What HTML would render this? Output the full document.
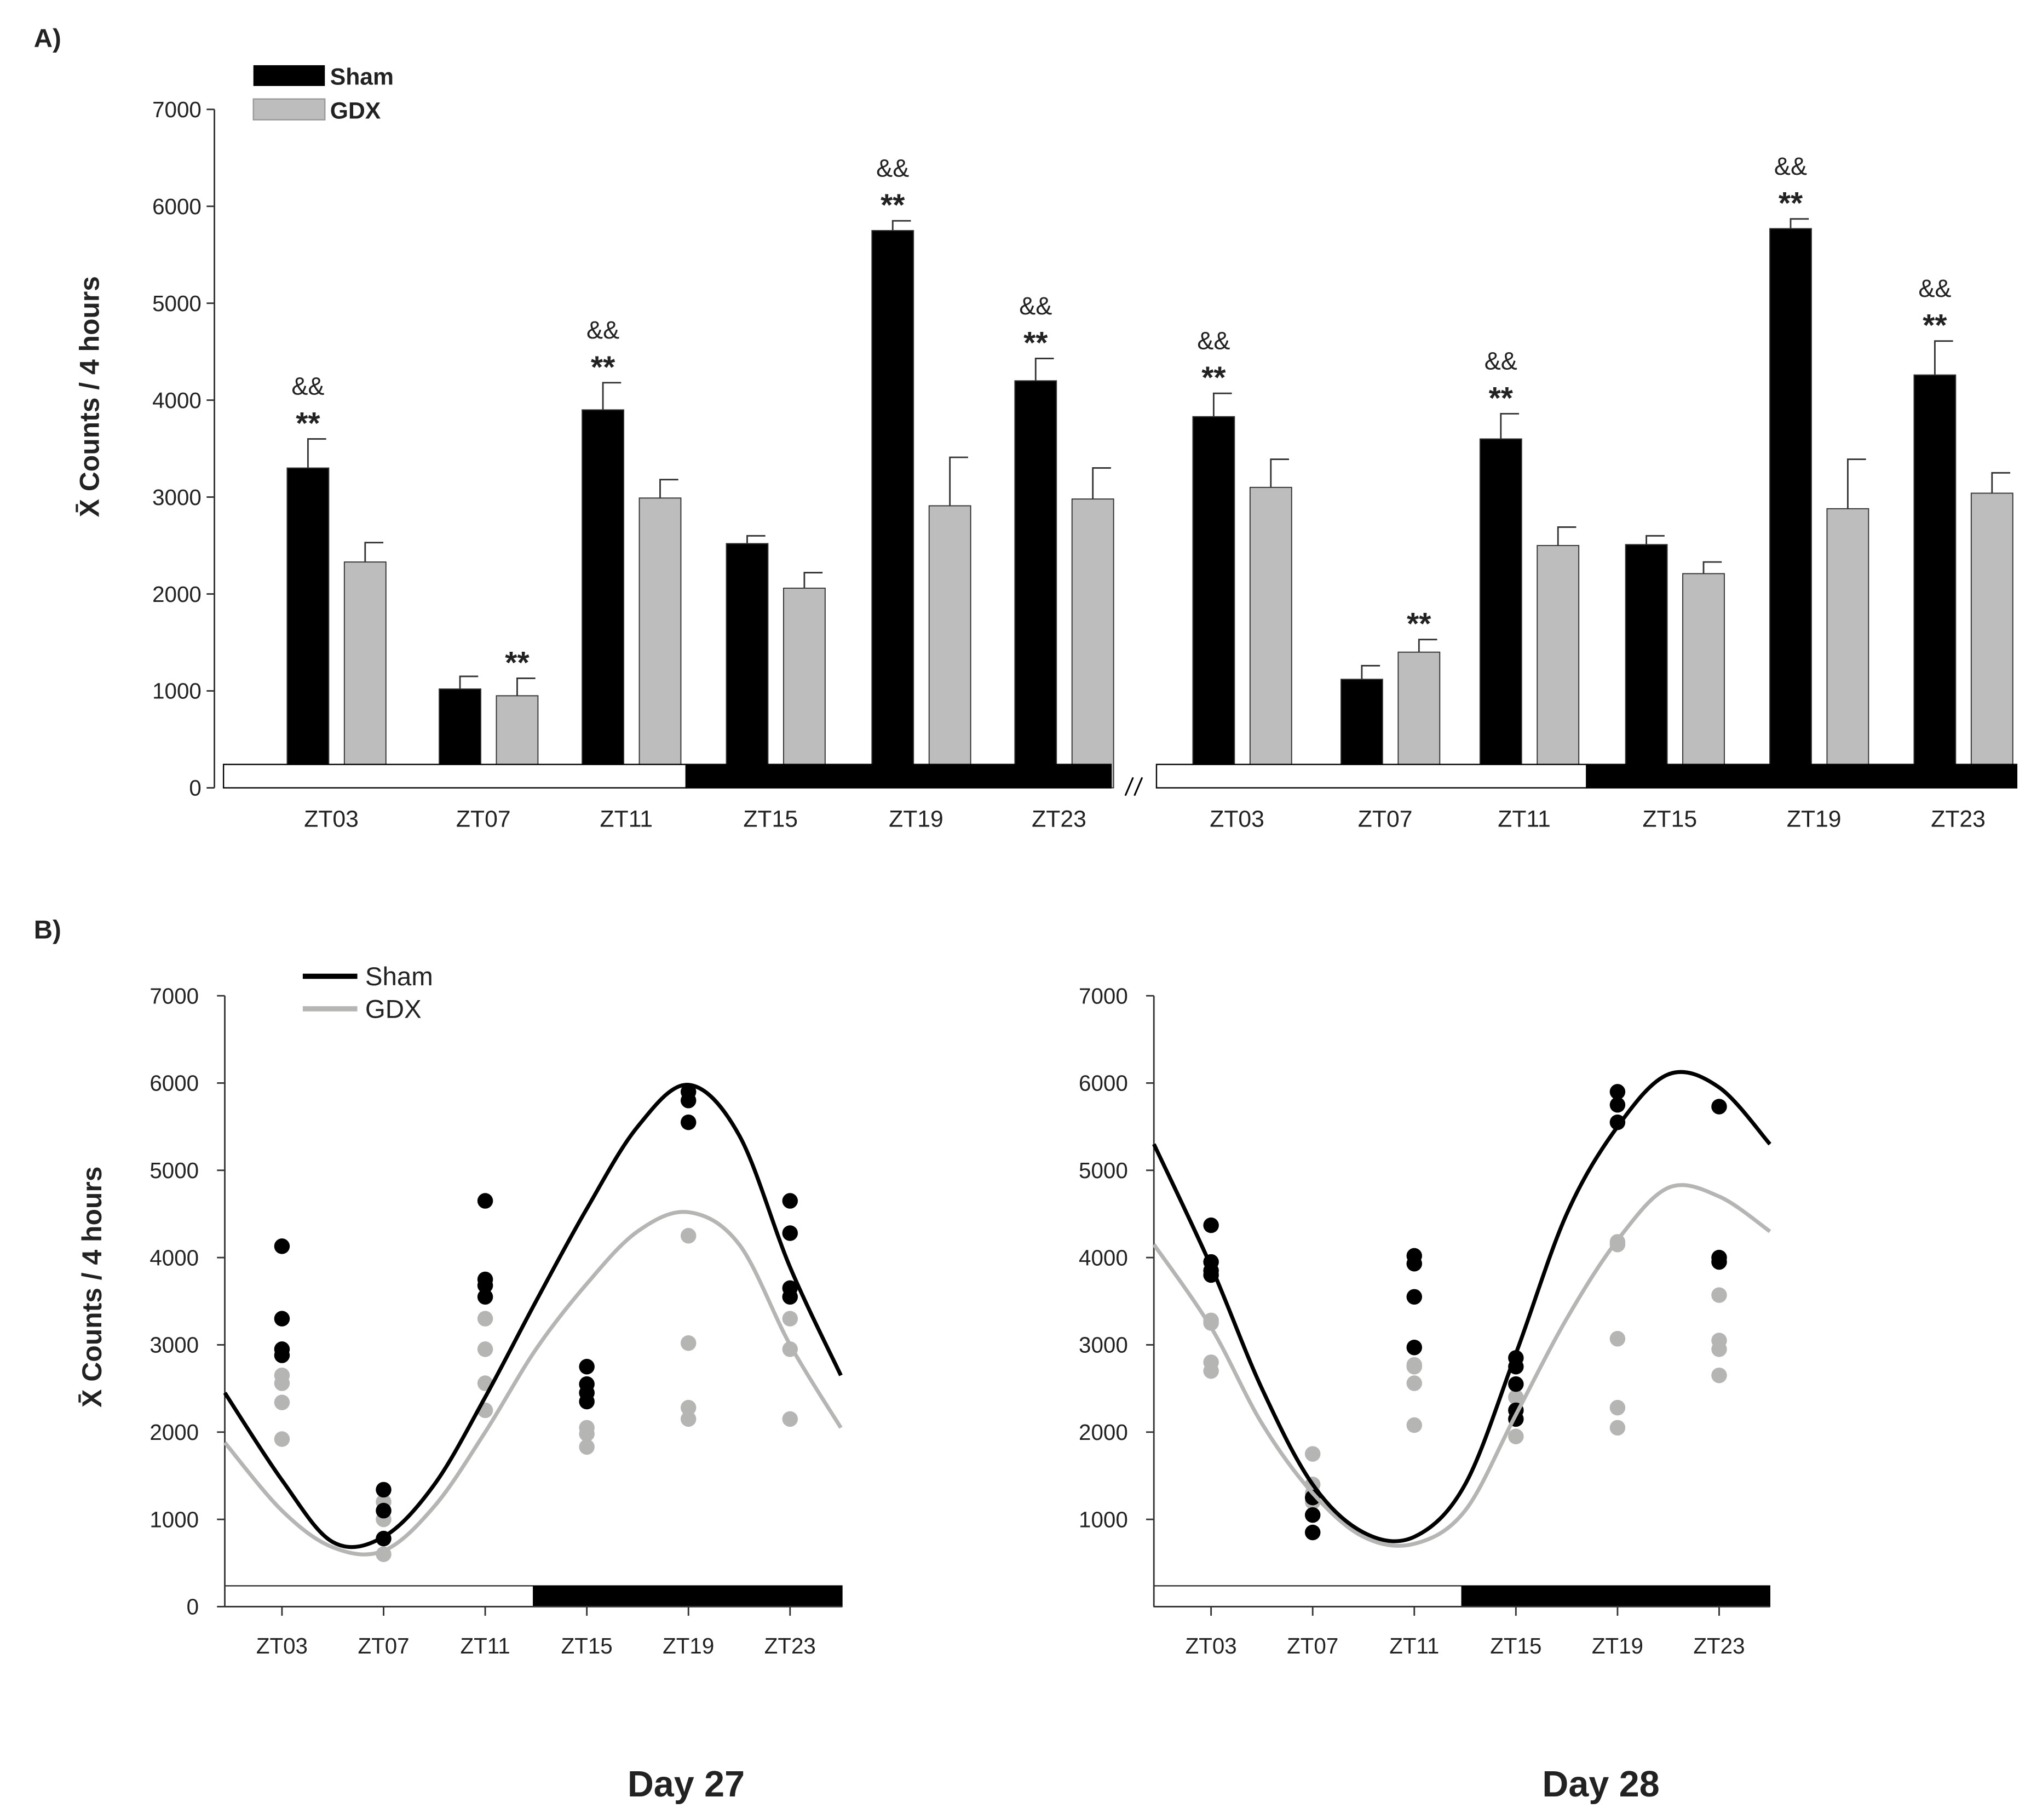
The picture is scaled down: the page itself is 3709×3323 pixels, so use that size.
<!DOCTYPE html>
<html><head><meta charset="utf-8"><style>
html,body{margin:0;padding:0;background:#fff}
svg{display:block}
text{font-family:"Liberation Sans",Arial,sans-serif;fill:#222}
</style></head><body>
<svg id="fig" xmlns="http://www.w3.org/2000/svg" width="3709" height="3323" viewBox="0 0 1563 1400">
<rect width="1563" height="1400" fill="#fff"/>
<text x="26" y="36" font-size="20" font-weight="bold">A)</text>
<text x="26" y="722" font-size="20" font-weight="bold">B)</text>
<g id="pa"></g>
<g id="pb1"></g>
<g id="pb2"></g>
<text x="528" y="1382" font-size="28" font-weight="bold" text-anchor="middle">Day 27</text>
<text x="1232" y="1382" font-size="28" font-weight="bold" text-anchor="middle">Day 28</text>
</svg>
<script>
// ---------- Panel A data ----------
const zts = ["ZT03","ZT07","ZT11","ZT15","ZT19","ZT23"];
const yTicksA = [0,1000,2000,3000,4000,5000,6000,7000];
const shamD27 = [3300,1020,3900,2520,5750,4200];
const shamD27Err = [300,130,280,80,100,230];
const gdxD27 = [2330,950,2990,2060,2910,2980];
const gdxD27Err = [200,180,190,160,500,320];
const shamD28 = [3830,1120,3600,2510,5770,4260];
const shamD28Err = [240,140,260,90,100,350];
const gdxD28 = [3100,1400,2500,2210,2880,3040];
const gdxD28Err = [290,130,190,120,510,210];
const shamD27Sig = ["&&\n**","","&&\n**","","&&\n**","&&\n**"];
const gdxD27Sig = ["","**","","","",""];
const shamD28Sig = ["&&\n**","","&&\n**","","&&\n**","&&\n**"];
const gdxD28Sig = ["","**","","","",""];

// ---------- Panel B data ----------
const yTicksB = [0,1000,2000,3000,4000,5000,6000,7000];
const ztHours = [3,7,11,15,19,23];
const curveZT = [0.75,3,5,7,9,11,13,15,17,19,21,23,25];
const shamCurve27 = [2450,1450,740,800,1400,2400,3500,4560,5500,5980,5400,3890,2650];
const gdxCurve27 = [1880,1100,680,640,1150,2000,2950,3700,4300,4520,4150,3000,2050];
const shamCurve28 = [5300,3900,2500,1400,850,800,1400,2900,4500,5500,6100,5950,5300];
const gdxCurve28 = [4150,3200,2100,1300,800,720,1100,2200,3300,4200,4800,4700,4300];
const shamPts27 = [[4130,3300,2950,2880],[1340,1100,780],[4650,3750,3680,3550],[2750,2550,2450,2350],[5900,5800,5550],[4650,4280,3650,3550]];
const gdxPts27 = [[2650,2560,2340,1920],[1200,1000,600],[3300,2950,2560,2250],[2450,2050,1980,1830],[4250,3020,2280,2150],[3550,3300,2950,2150]];
const shamPts28 = [[4370,3950,3850,3800],[1250,1050,850],[4020,3930,3550,2970],[2850,2750,2550,2250,2150],[5900,5750,5550],[5730,4000,3950]];
const gdxPts28 = [[3280,3250,2800,2700],[1750,1400,1300,1200],[2770,2750,2560,2080],[2400,2250,1950],[4180,4150,3070,2280,2050],[3570,3050,2950,2650]];

const NS="http://www.w3.org/2000/svg";
function mk(parent,tag,attrs,txt){const e=document.createElementNS(NS,tag);for(const k in attrs)e.setAttribute(k,attrs[k]);if(txt!==undefined)e.textContent=txt;parent.appendChild(e);return e;}

// ===== Panel A =====
const pa=document.getElementById('pa');
const yA=v=>606-v*(522/7000);
const axA=mk(pa,'line',{x1:165,y1:84,x2:165,y2:606,stroke:'#333','stroke-width':1.2});

yTicksA.forEach(v=>{
  const t=mk(pa,'line',{x1:159,y1:yA(v),x2:165,y2:yA(v),stroke:'#333','stroke-width':1.2});
  
  const l=mk(pa,'text',{x:155,y:yA(v)+6,'font-size':17,'text-anchor':'end'},v);
  
});
const ttA=mk(pa,'text',{x:0,y:0,'font-size':21,'font-weight':'bold','text-anchor':'middle',transform:'translate(76,305) rotate(-90)'},'X\u0304 Counts / 4 hours');


function drawDay(centers,sham,shamE,gdx,gdxE,sSig,gSig,day){
  centers.forEach((c,i)=>{
    [[sham,shamE,sSig,'#000',c-34,'sham'],[gdx,gdxE,gSig,'#bdbdbd',c+10,'gdx']].forEach(([vals,errs,sig,col,x,nm])=>{
      const top=yA(vals[i]);
      const b=mk(pa,'rect',{x:x,y:top,width:32,height:606-top,fill:col,stroke:'#333','stroke-width':0.8});
      
      const et=yA(vals[i]+errs[i]);
      const e=mk(pa,'path',{d:`M${x+16},${top} V${et} H${x+30}`,stroke:'#333','stroke-width':1.2,fill:'none'});
      
      if(sig[i]){
        const lines=sig[i].split('\n');
        lines.slice().reverse().forEach((s,k)=>{
          const tx=mk(pa,'text',{x:x+16,y:et-8-(s==='**'?-4:0)-k*26,'font-size':s==='**'?24:19,'font-weight':s==='**'?'bold':'normal','text-anchor':'middle'},s);
          
        });
      }
    });
  });
}
drawDay([255,372,482,593,705,815],shamD27,shamD27Err,gdxD27,gdxD27Err,shamD27Sig,gdxD27Sig,'d27');
drawDay([952,1066,1173,1285,1396,1507],shamD28,shamD28Err,gdxD28,gdxD28Err,shamD28Sig,gdxD28Sig,'d28');
[[172,528,'#fff'],[528,855,'#000'],[890,1221,'#fff'],[1221,1552,'#000']].forEach(([a,b,c],i)=>{
  const r=mk(pa,'rect',{x:a,y:588,width:b-a,height:18,fill:c,stroke:'#000','stroke-width':1});
  
});
const brk=mk(pa,'path',{d:'M866,612 L872,598 M873,612 L879,598',stroke:'#000','stroke-width':1.3});

[[255,372,482,593,705,815],[952,1066,1173,1285,1396,1507]].forEach(cs=>cs.forEach((c,i)=>{
  const l=mk(pa,'text',{x:c,y:636,'font-size':18,'text-anchor':'middle'},zts[i]);
  
}));
const lg1=mk(pa,'rect',{x:195,y:50,width:55,height:16,fill:'#000'});
const lt1=mk(pa,'text',{x:254,y:65,'font-size':18,'font-weight':'bold'},'Sham');
const lg2=mk(pa,'rect',{x:195,y:76,width:55,height:16,fill:'#bdbdbd',stroke:'#999'});
const lt2=mk(pa,'text',{x:254,y:91,'font-size':18,'font-weight':'bold'},'GDX');

// ===== Panel B =====
function smooth(pts){
  let d=`M${pts[0][0]},${pts[0][1]}`;
  for(let i=0;i<pts.length-1;i++){
    const p0=pts[Math.max(0,i-1)],p1=pts[i],p2=pts[i+1],p3=pts[Math.min(pts.length-1,i+2)];
    d+=` C${p1[0]+(p2[0]-p0[0])/6},${p1[1]+(p2[1]-p0[1])/6} ${p2[0]-(p3[0]-p1[0])/6},${p2[1]-(p3[1]-p1[1])/6} ${p2[0]},${p2[1]}`;
  }
  return d;
}
function panelB(g,x0,x1,zt3x,showZero,sCurve,gCurve,sPts,gPts,day,legend){
  const xZ=h=>zt3x+(h-3)*19.55;
  const y=v=>1236-v*(470/7000);
  const lx=(x0+x1)/2;
  [[x0,lx,'#fff'],[lx,x1,'#000']].forEach(([a,b,c])=>{
    const r=mk(g,'rect',{x:a,y:1220,width:b-a,height:16,fill:c,stroke:'#000','stroke-width':0.8});
    
  });
  const ya=mk(g,'line',{x1:x0,y1:766,x2:x0,y2:1236,stroke:'#333','stroke-width':1.2});
  
  const xa=mk(g,'line',{x1:x0,y1:1236,x2:x1,y2:1236,stroke:'#333','stroke-width':1.2});
  
  yTicksB.forEach(v=>{
    if(v===0&&!showZero)return;
    const t=mk(g,'line',{x1:x0-6,y1:y(v),x2:x0,y2:y(v),stroke:'#333','stroke-width':1.2});
    
    const l=mk(g,'text',{x:x0-20,y:y(v)+6,'font-size':17,'text-anchor':'end'},v);
    
  });
  ztHours.forEach((h,i)=>{
    const t=mk(g,'line',{x1:xZ(h),y1:1236,x2:xZ(h),y2:1243,stroke:'#333','stroke-width':1.2});
    
    const l=mk(g,'text',{x:xZ(h),y:1272,'font-size':17,'text-anchor':'middle'},zts[i]);
    
  });
  [[gPts,'#b5b5b3','gdx'],[sPts,'#000','sham']].forEach(([P,c,nm])=>P.forEach((arr,i)=>arr.forEach(v=>{
    const d=mk(g,'circle',{cx:xZ(ztHours[i]),cy:y(v),r:6,fill:c});
    
  })));
  [[gCurve,'#b5b5b3','gdx'],[sCurve,'#000','sham']].forEach(([C,c,nm])=>{
    const pts=curveZT.map((h,i)=>[xZ(h),y(C[i])]);
    const p=mk(g,'path',{d:smooth(pts),fill:'none',stroke:c,'stroke-width':3});
    
  });
  if(legend){
    const a=mk(g,'line',{x1:233,y1:751,x2:275,y2:751,stroke:'#000','stroke-width':4});
    const at=mk(g,'text',{x:281,y:758,'font-size':20},'Sham');
    const b=mk(g,'line',{x1:233,y1:776,x2:275,y2:776,stroke:'#b5b5b3','stroke-width':4});
    const bt=mk(g,'text',{x:281,y:783,'font-size':20},'GDX');
    const tt=mk(g,'text',{x:0,y:0,'font-size':21,'font-weight':'bold','text-anchor':'middle',transform:'translate(78,990) rotate(-90)'},'X\u0304 Counts / 4 hours');
    
  }
}
panelB(document.getElementById('pb1'),173,648,217,true,shamCurve27,gdxCurve27,shamPts27,gdxPts27,'d27',true);
panelB(document.getElementById('pb2'),888,1362,932,false,shamCurve28,gdxCurve28,shamPts28,gdxPts28,'d28',false);
</script>
</body></html>
